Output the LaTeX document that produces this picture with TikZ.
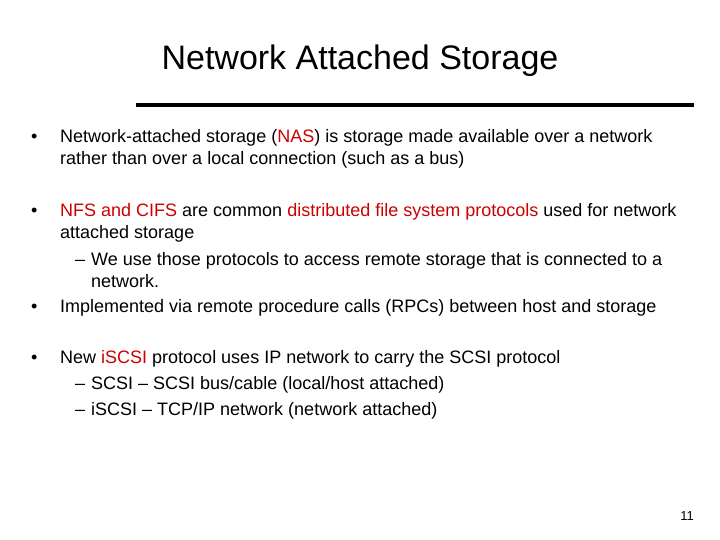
\documentclass[tikz,border=0pt]{standalone}
\usepackage{fontspec}
\setmainfont{Liberation Sans}
\definecolor{hl}{RGB}{204,0,0}
\begin{document}
\begin{tikzpicture}[x=1pt,y=-1pt,
  txt/.style={anchor=base west,inner sep=0pt,font=\fontsize{18}{20}\selectfont},
  bul/.style={anchor=base west,inner sep=0pt,font=\fontsize{18}{20}\selectfont}]
\useasboundingbox[fill=white] (0,0) rectangle (720,540);
\node[anchor=base,inner sep=0pt,font=\fontsize{34}{38}\selectfont] (title) at (360,70) {Network Attached Storage};
\draw[line width=3.5pt] (136,105) -- (694,105);
\node[bul] (b1) at (31,143) {•};
\node[txt] (l1) at (60,143) {Network-attached storage (\textcolor{hl}{NAS}) is storage made available over a network};
\node[txt] (l2) at (60,165) {rather than over a local connection (such as a bus)};
\node[bul] (b2) at (31,217) {•};
\node[txt] (l3) at (60,217) {\textcolor{hl}{NFS and CIFS} are common \textcolor{hl}{distributed file system protocols} used for network};
\node[txt] (l4) at (60,239) {attached storage};
\node[txt] (d1) at (75,265) {–};
\node[txt] (l5) at (91,265) {We use those protocols to access remote storage that is connected to a};
\node[txt] (l6) at (91,287) {network.};
\node[bul] (b3) at (31,312) {•};
\node[txt] (l7) at (60,312) {Implemented via remote procedure calls (RPCs) between host and storage};
\node[bul] (b4) at (31,363) {•};
\node[txt] (l8) at (60,363) {New \textcolor{hl}{iSCSI} protocol uses IP network to carry the SCSI protocol};
\node[txt] (d2) at (75,389) {–};
\node[txt] (l9) at (91,389) {SCSI – SCSI bus/cable (local/host attached)};
\node[txt] (d3) at (75,415) {–};
\node[txt] (l10) at (91,415) {iSCSI – TCP/IP network (network attached)};
\node[anchor=base east,inner sep=0pt,font=\fontsize{13}{15}\selectfont] (pg) at (694,520) {11};
\end{tikzpicture}
\end{document}
